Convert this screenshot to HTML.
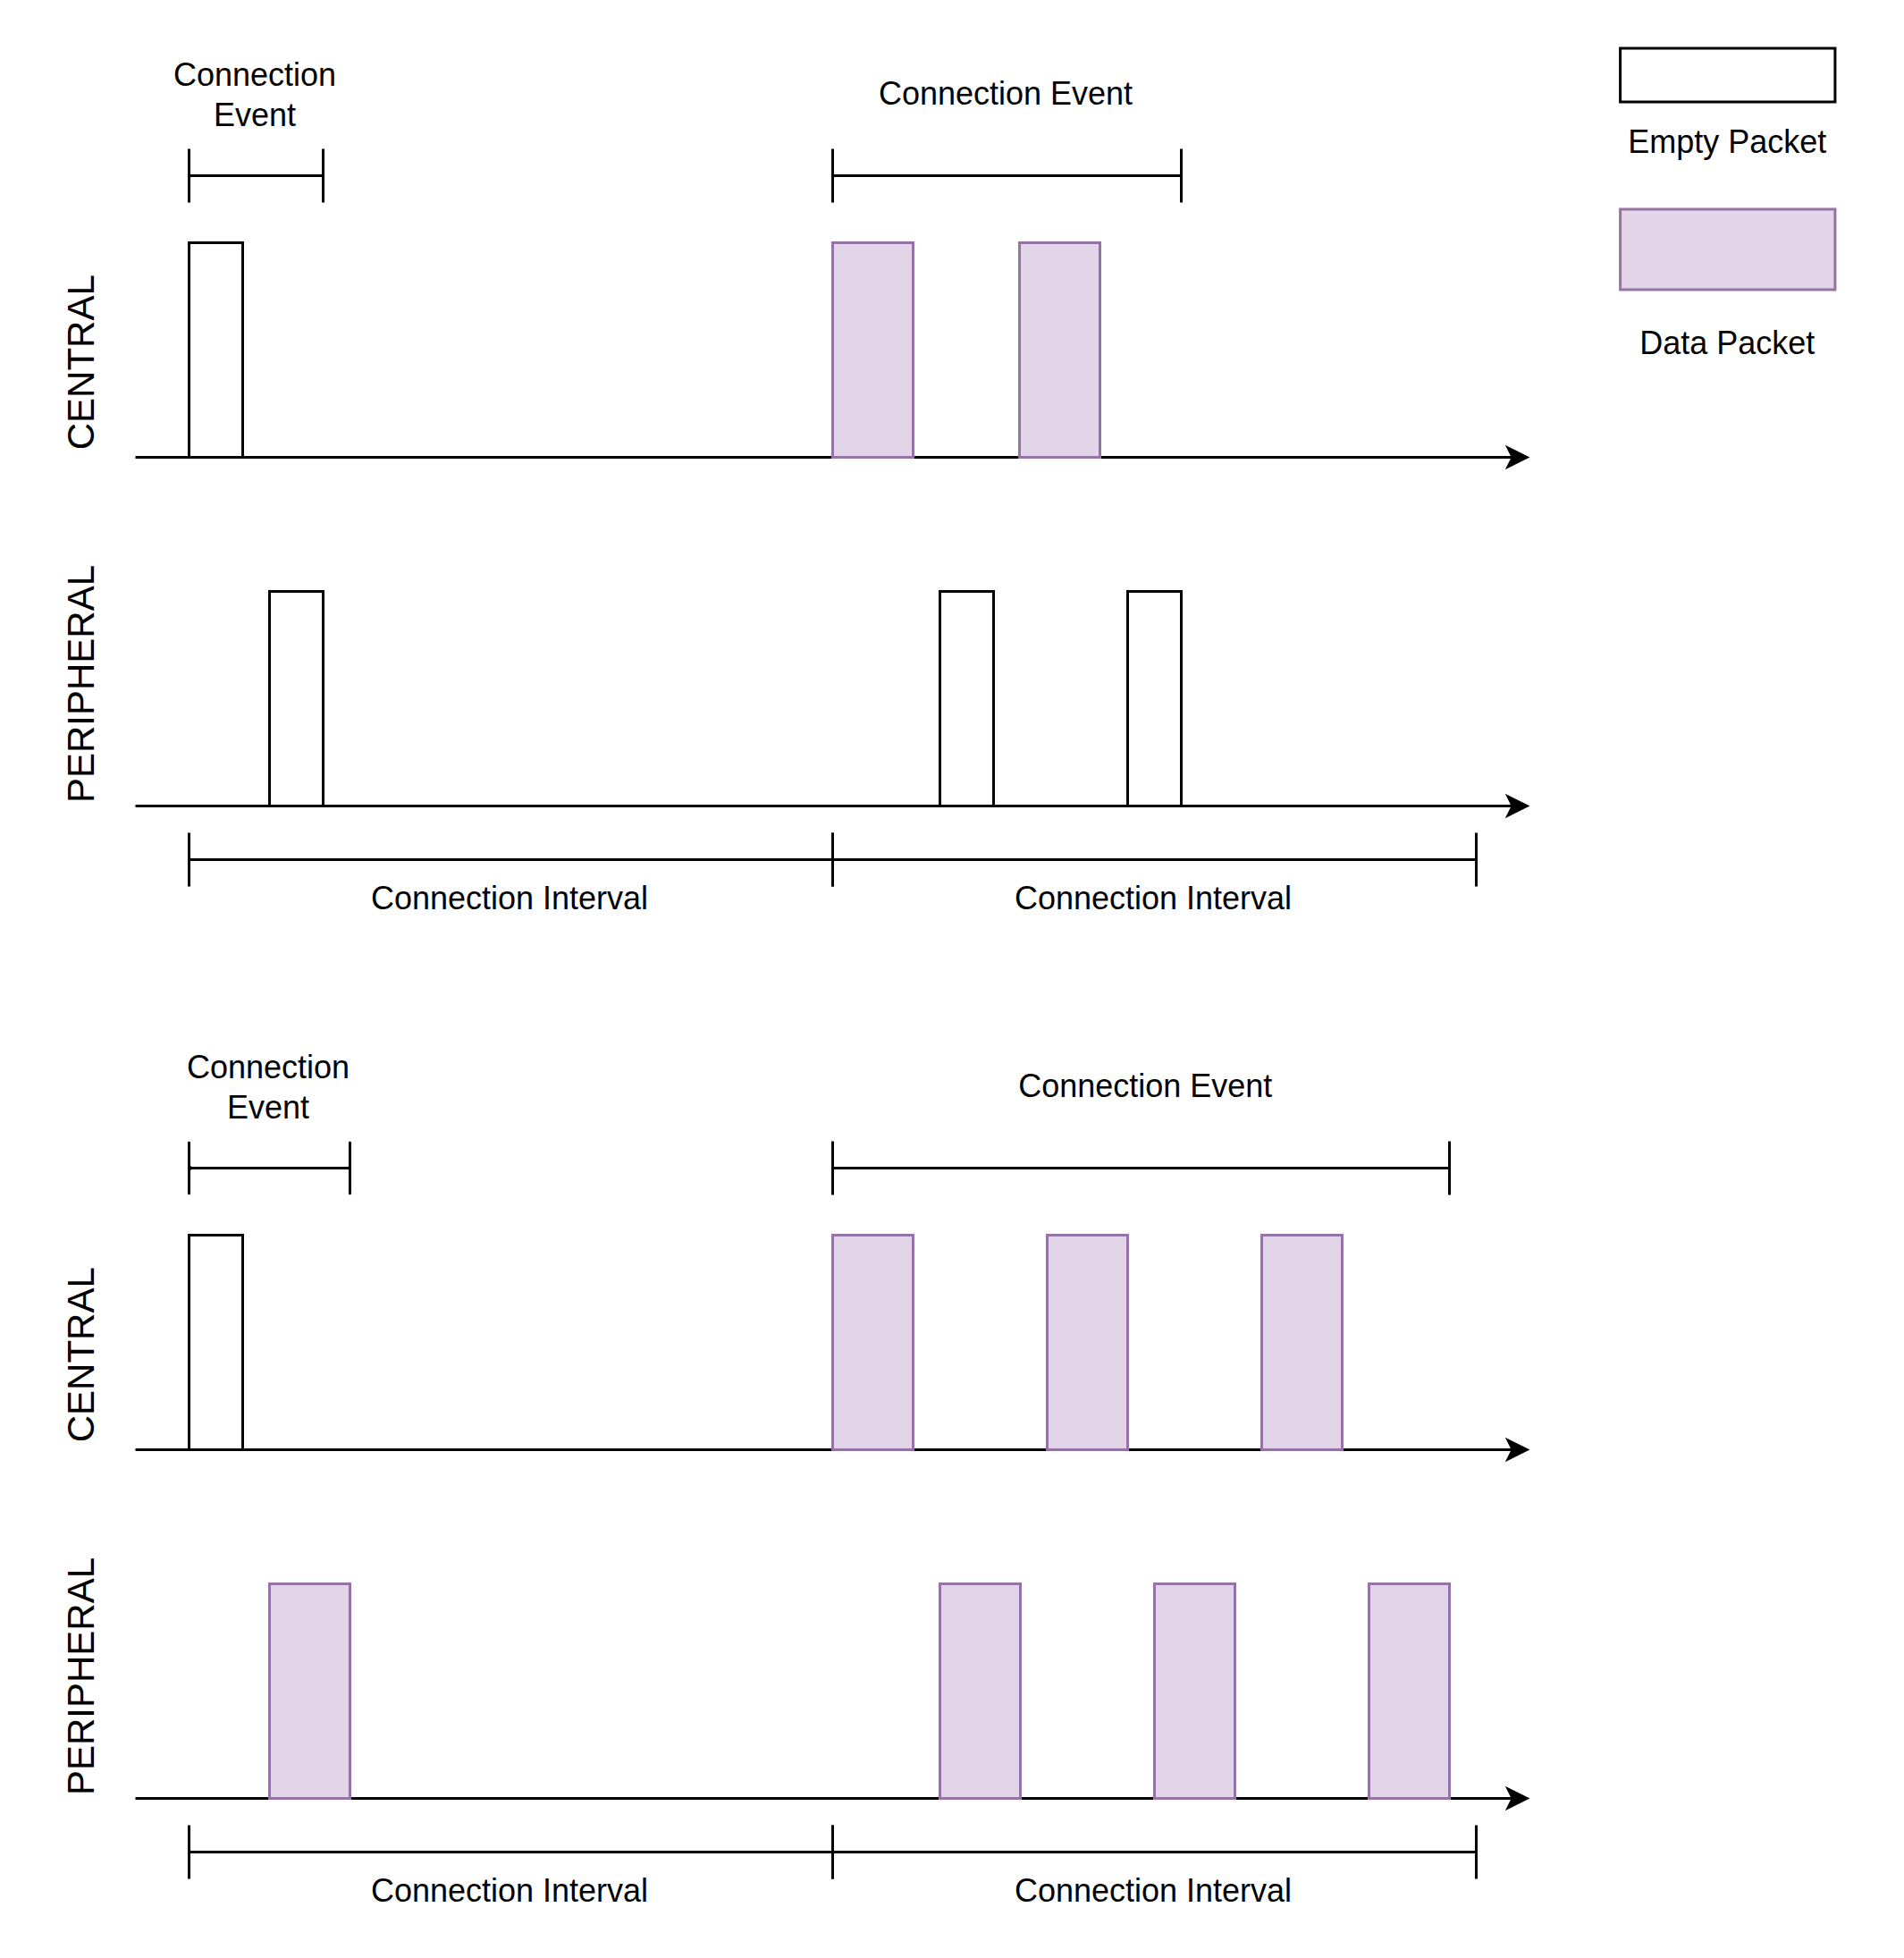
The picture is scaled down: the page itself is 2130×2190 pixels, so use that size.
<!DOCTYPE html>
<html><head><meta charset="utf-8"><title>Connection events</title>
<style>
html,body{margin:0;padding:0;background:#ffffff;}
svg{display:block;}
text{font-family:"Liberation Sans",Arial,Helvetica,sans-serif;fill:#000000;text-anchor:middle;}
</style></head>
<body>
<svg width="2130" height="2190" viewBox="0 0 2130 2190">
<rect x="0" y="0" width="2130" height="2190" fill="#ffffff"/>
<g transform="scale(3) translate(0.5,0.5)">
<path d="M 50 170 L 563.63 170" fill="none" stroke="#000000" stroke-miterlimit="10"/><path d="M 568.88 170 L 561.88 173.5 L 563.63 170 L 561.88 166.5 Z" fill="#000000" stroke="#000000" stroke-miterlimit="10"/>
<path d="M 50 300 L 563.63 300" fill="none" stroke="#000000" stroke-miterlimit="10"/><path d="M 568.88 300 L 561.88 303.5 L 563.63 300 L 561.88 296.5 Z" fill="#000000" stroke="#000000" stroke-miterlimit="10"/>
<rect x="70" y="90" width="20" height="80" fill="#ffffff" stroke="#000000"/>
<rect x="310" y="90" width="30" height="80" fill="#e1d5e7" stroke="#9673a6"/>
<rect x="379.6667" y="90" width="30" height="80" fill="#e1d5e7" stroke="#9673a6"/>
<rect x="100" y="220" width="20" height="80" fill="#ffffff" stroke="#000000"/>
<rect x="350" y="220" width="20" height="80" fill="#ffffff" stroke="#000000"/>
<rect x="420" y="220" width="20" height="80" fill="#ffffff" stroke="#000000"/>
<path d="M 70 55 L 70 75" fill="none" stroke="#000000" stroke-miterlimit="10"/><path d="M 120 55 L 120 75" fill="none" stroke="#000000" stroke-miterlimit="10"/><path d="M 70 65 L 120 65" fill="none" stroke="#000000" stroke-miterlimit="10"/>
<path d="M 310 55 L 310 75" fill="none" stroke="#000000" stroke-miterlimit="10"/><path d="M 440 55 L 440 75" fill="none" stroke="#000000" stroke-miterlimit="10"/><path d="M 310 65 L 440 65" fill="none" stroke="#000000" stroke-miterlimit="10"/>
<path d="M 70 310 L 70 330" fill="none" stroke="#000000" stroke-miterlimit="10"/><path d="M 310 310 L 310 330" fill="none" stroke="#000000" stroke-miterlimit="10"/><path d="M 70 320 L 310 320" fill="none" stroke="#000000" stroke-miterlimit="10"/>
<path d="M 310 310 L 310 330" fill="none" stroke="#000000" stroke-miterlimit="10"/><path d="M 550 310 L 550 330" fill="none" stroke="#000000" stroke-miterlimit="10"/><path d="M 310 320 L 550 320" fill="none" stroke="#000000" stroke-miterlimit="10"/>
<path d="M 50 540 L 563.63 540" fill="none" stroke="#000000" stroke-miterlimit="10"/><path d="M 568.88 540 L 561.88 543.5 L 563.63 540 L 561.88 536.5 Z" fill="#000000" stroke="#000000" stroke-miterlimit="10"/>
<path d="M 50 670 L 563.63 670" fill="none" stroke="#000000" stroke-miterlimit="10"/><path d="M 568.88 670 L 561.88 673.5 L 563.63 670 L 561.88 666.5 Z" fill="#000000" stroke="#000000" stroke-miterlimit="10"/>
<rect x="70" y="460" width="20" height="80" fill="#ffffff" stroke="#000000"/>
<rect x="310" y="460" width="30" height="80" fill="#e1d5e7" stroke="#9673a6"/>
<rect x="390" y="460" width="30" height="80" fill="#e1d5e7" stroke="#9673a6"/>
<rect x="470" y="460" width="30" height="80" fill="#e1d5e7" stroke="#9673a6"/>
<rect x="100" y="590" width="30" height="80" fill="#e1d5e7" stroke="#9673a6"/>
<rect x="350" y="590" width="30" height="80" fill="#e1d5e7" stroke="#9673a6"/>
<rect x="430" y="590" width="30" height="80" fill="#e1d5e7" stroke="#9673a6"/>
<rect x="510" y="590" width="30" height="80" fill="#e1d5e7" stroke="#9673a6"/>
<path d="M 310 425 L 310 445" fill="none" stroke="#000000" stroke-miterlimit="10"/><path d="M 540 425 L 540 445" fill="none" stroke="#000000" stroke-miterlimit="10"/><path d="M 310 435 L 540 435" fill="none" stroke="#000000" stroke-miterlimit="10"/>
<path d="M 70 680 L 70 700" fill="none" stroke="#000000" stroke-miterlimit="10"/><path d="M 310 680 L 310 700" fill="none" stroke="#000000" stroke-miterlimit="10"/><path d="M 70 690 L 310 690" fill="none" stroke="#000000" stroke-miterlimit="10"/>
<path d="M 310 680 L 310 700" fill="none" stroke="#000000" stroke-miterlimit="10"/><path d="M 550 680 L 550 700" fill="none" stroke="#000000" stroke-miterlimit="10"/><path d="M 310 690 L 550 690" fill="none" stroke="#000000" stroke-miterlimit="10"/>
</g>
<g>
<rect x="1812.6" y="54" width="240.3" height="60" fill="#ffffff" stroke="#000000" stroke-width="3"/><rect x="1812.6" y="234" width="240.3" height="90" fill="#e1d5e7" stroke="#9673a6" stroke-width="3"/>
<path d="M 211.3 1276.75 L 211.7 1276.75 A 1.3 1.3 0 0 1 213.0 1278.05 L 213.0 1303.3 A 1.7 1.7 0 0 0 214.7 1305.0 L 389.3 1305.0 A 0.7 0.7 0 0 0 390.0 1304.3 L 390.0 1278.05 A 1.3 1.3 0 0 1 391.3 1276.75 L 391.7 1276.75 A 1.3 1.3 0 0 1 393.0 1278.05 L 393.0 1334.95 A 1.3 1.3 0 0 1 391.7 1336.25 L 391.3 1336.25 A 1.3 1.3 0 0 1 390.0 1334.95 L 390.0 1308.7 A 0.7 0.7 0 0 0 389.3 1308.0 L 214.7 1308.0 A 1.7 1.7 0 0 0 213.0 1309.7 L 213.0 1334.95 A 1.3 1.3 0 0 1 211.7 1336.25 L 211.3 1336.25 A 1.3 1.3 0 0 1 210.0 1334.95 L 210.0 1278.05 A 1.3 1.3 0 0 1 211.3 1276.75 Z" fill="#000000" stroke="none"/>
</g>
<g>
<text x="285" y="95.5" font-size="36">Connection</text>
<text x="285" y="140.5" font-size="36">Event</text>
<text x="1125" y="116.5" font-size="36">Connection Event</text>
<text x="570" y="1017" font-size="36">Connection Interval</text>
<text x="1290" y="1017" font-size="36">Connection Interval</text>
<text transform="translate(105,405.25) rotate(-90)" font-size="42">CENTRAL</text>
<text transform="translate(105,765) rotate(-90)" font-size="42">PERIPHERAL</text>
<text x="300" y="1205.5" font-size="36">Connection</text>
<text x="300" y="1250.5" font-size="36">Event</text>
<text x="1281.25" y="1226.5" font-size="36">Connection Event</text>
<text x="570" y="2127" font-size="36">Connection Interval</text>
<text x="1290" y="2127" font-size="36">Connection Interval</text>
<text transform="translate(105,1515.25) rotate(-90)" font-size="42">CENTRAL</text>
<text transform="translate(105,1875) rotate(-90)" font-size="42">PERIPHERAL</text>
<text x="1932.3" y="171.2" font-size="36">Empty Packet</text>
<text x="1932.3" y="396" font-size="36">Data Packet</text>
</g>
</svg>
</body></html>
